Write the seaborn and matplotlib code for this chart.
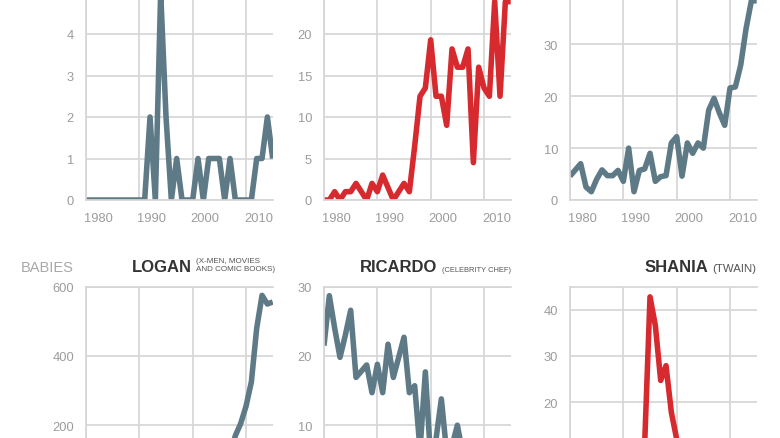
import matplotlib
matplotlib.use("Agg")
import matplotlib.pyplot as plt
import matplotlib.transforms as mtransforms
import pandas as pd
import seaborn as sns

# ---------------- data ----------------
years = list(range(1980, 2016))

# top row (their titles are cropped out of the frame)
top_left = [0, 0, 0, 0, 0, 0, 0, 0, 0, 0,
            0, 0, 2, 0, 5, 2, 0, 1, 0, 0,
            0, 1, 0, 1, 1, 1, 0, 1, 0, 0,
            0, 0, 1, 1, 2, 1]
top_mid = [0, 0, 1, 0, 1, 1, 2, 1, 0, 2,
           1, 3, 1.5, 0, 1, 2, 1, 6.5, 12.5, 13.5,
           19.3, 12.5, 12.5, 9, 18.2, 16, 16, 18.2, 4.5, 16,
           13.5, 12.5, 23.9, 12.5, 23.9, 23.9]
top_right = [4.6, 5.8, 7, 2.5, 1.6, 4, 5.8, 4.7, 4.7, 5.7,
             3.6, 10, 1.6, 5.7, 6, 9, 3.6, 4.5, 4.7, 11,
             12.2, 4.6, 11, 9, 11, 10, 17.3, 19.6, 16.8, 14.4,
             21.6, 21.8, 26, 33, 38.4, 38.4]
logan = [0, 0, 0, 1, 0, 1, 2, 2, 3, 4,
         5, 6, 8, 10, 12, 15, 18, 22, 27, 33,
         40, 48, 55, 63, 72, 82, 95, 110, 170, 205,
         255, 325, 480, 575, 550, 556]
ricardo = [21.5, 28.7, 24, 19.8, 23, 26.6, 16.9, 17.8, 18.7, 14.7,
           18.8, 14.7, 21.7, 16.9, 19.8, 22.7, 14.7, 15.7, 6.5, 17.7,
           5, 8, 13.8, 6, 7, 10, 6, 5, 6, 4,
           5, 4, 3, 4, 3, 3]
shania = [0, 0, 0, 0, 0, 0, 0, 0, 0, 0,
          0, 0, 0, 1, 11, 42.8, 36.6, 24.7, 27.9, 17.8,
          12, 9, 7, 5, 4, 4, 3, 3, 2, 2,
          2, 1, 1, 1, 1, 1]

panel_keys = ["top_left", "top_mid", "top_right", "LOGAN", "RICARDO", "SHANIA"]
panel_values = [top_left, top_mid, top_right, logan, ricardo, shania]
panel_titles = [None, None, None, "LOGAN", "RICARDO", "SHANIA"]
panel_notes = [None, None, None, "(X-MEN, MOVIES\nAND COMIC BOOKS)", "(CELEBRITY CHEF)", "(TWAIN)"]
y_max = [5, 25, 40, 600, 30, 45]
y_ticks = [[0, 1, 2, 3, 4, 5], [0, 5, 10, 15, 20, 25], [0, 10, 20, 30, 40],
           [0, 200, 400, 600], [0, 10, 20, 30], [0, 10, 20, 30, 40]]
# labels that fall outside the cropped frame are left blank
y_tick_labels = [["0", "1", "2", "3", "4", ""],
                 ["0", "5", "10", "15", "20", ""],
                 ["0", "10", "20", "30", ""],
                 ["", "200", "400", "600"],
                 ["", "10", "20", "30"],
                 ["", "", "20", "30", "40"]]
x_ticks = [1980, 1990, 2000, 2010]
x_tick_labels = ["1980", "1990", "2000", "2010"]
y_axis_label = "BABIES"

GREY = "#5e7a87"
RED = "#d62a2f"
panel_colors = [GREY, RED, GREY, GREY, GREY, RED]

frames = [pd.DataFrame({"year": years, "value": v, "name": k})
          for k, v in zip(panel_keys, panel_values)]
df = pd.concat(frames, ignore_index=True)

# ---------------- style ----------------
sns.set_theme(style="white")
plt.rcParams['font.family'] = ['Liberation Sans', 'DejaVu Sans']

W, H = 780, 439
fig = plt.figure(figsize=(W / 100, H / 100), dpi=100)
fig.patch.set_facecolor("white")

cols = [(86, 272.7), (324, 510.7), (570, 756.7)]
rows = [(-6.5, 201), (287.7, 495.5)]

GRID = "#d6d6d6"
TICKC = "#9c9c9c"

axes = []
for i, key in enumerate(panel_keys):
    r, c = divmod(i, 3)
    l, rr = cols[c]
    t, b = rows[r]
    ax = fig.add_axes([l / W, 1 - b / H, (rr - l) / W, (b - t) / H])
    sub = df[df["name"] == key]
    sns.lineplot(data=sub, x="year", y="value", color=panel_colors[i],
                 linewidth=4.0, ax=ax, legend=False)
    for ln in ax.lines:
        ln.set_solid_joinstyle("round")
        ln.set_solid_capstyle("butt")
    ax.set_xlim(1980, 2015)
    ax.set_ylim(0, y_max[i])
    ax.set_xticks(x_ticks)
    ax.set_yticks(y_ticks[i])
    ax.set_yticklabels(y_tick_labels[i])
    ax.set_xlabel("")
    ax.set_ylabel("")
    ax.grid(True, color=GRID, linewidth=1.25)
    ax.set_axisbelow(True)
    for s in ["left", "top", "bottom"]:
        ax.spines[s].set_visible(True)
        ax.spines[s].set_color(GRID)
        ax.spines[s].set_linewidth(1.25)
    ax.spines["right"].set_visible(False)
    ax.tick_params(axis="both", length=0, labelsize=9.3, labelcolor=TICKC)
    ax.tick_params(axis="x", pad=8.4)
    ax.tick_params(axis="y", pad=8.6)
    if r == 0:
        ax.set_xticklabels(x_tick_labels)
        offset = mtransforms.ScaledTranslation(-2 / 100, 0, fig.dpi_scale_trans)
        for lbl in ax.get_xticklabels():
            lbl.set_horizontalalignment("left")
            lbl.set_transform(lbl.get_transform() + offset)
    else:
        # x labels of the lower row are below the cropped frame
        ax.tick_params(axis="x", labelbottom=False)
    ax.set_facecolor("white")
    axes.append(ax)

# ---------------- titles (bottom row; top row titles are out of frame) ----------------
renderer = fig.canvas.get_renderer()
note_sizes = {"LOGAN": 5.8, "RICARDO": 5.4, "SHANIA": 8.2}
note_base = {"LOGAN": 270.8, "RICARDO": 272.0, "SHANIA": 272.0}
for i, key in enumerate(panel_keys):
    if panel_titles[i] is None:
        continue
    c = i % 3
    right_px = cols[c][1] + (2 if key == "LOGAN" else 0)
    nt = fig.text(right_px / W, 1 - note_base[key] / H, panel_notes[i],
                  ha="right", va="baseline", fontsize=note_sizes[key],
                  color="#555555", multialignment="left", linespacing=1.25)
    bb = nt.get_window_extent(renderer)
    fig.text((bb.x0 - 4) / W, 1 - 272.3 / H, panel_titles[i], ha="right",
             va="baseline", fontsize=12, fontweight="bold", color="#333333")

fig.text(74 / W, 1 - 272.3 / H, y_axis_label, ha="right", va="baseline",
         fontsize=10.5, color="#a8a8a8")

fig.savefig("out.png", dpi=100, facecolor="white")
